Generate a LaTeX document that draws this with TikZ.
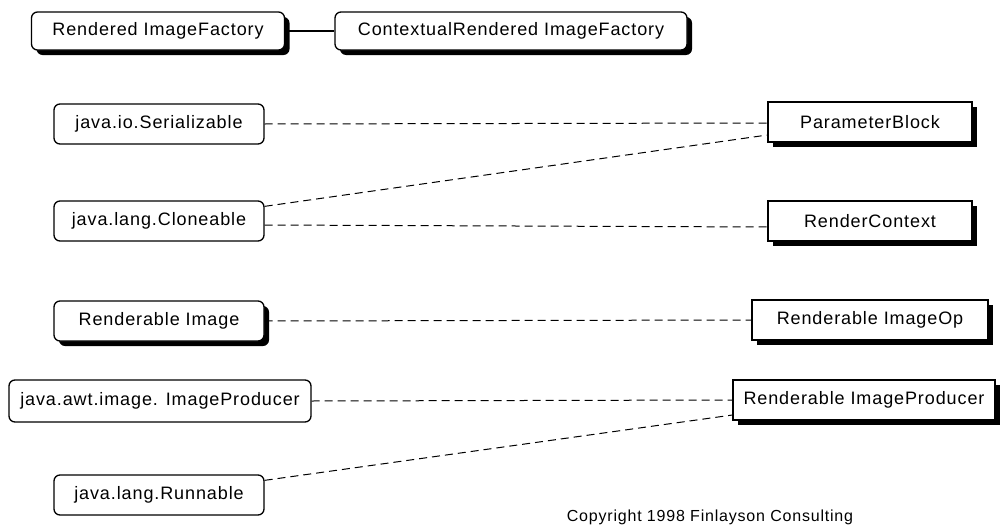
\documentclass[tikz,border=0pt]{standalone}
\usepackage{fontspec}
\setmainfont[LetterSpace=5]{Liberation Sans}
\usetikzlibrary{shadows}
\begin{document}
\begin{tikzpicture}[x=1pt,y=-1pt,
  base/.style={draw=black, line width=1.3pt, fill=white, inner sep=0pt,
    font=\fontsize{18}{20}\selectfont, anchor=center, minimum height=40pt},
  iface/.style={base, rounded corners=6pt},
  cls/.style={base},
  shade/.style={drop shadow={shadow xshift=5pt, shadow yshift=-5pt, fill=black, opacity=1}},
  link/.style={line width=1pt, dash pattern=on 8pt off 5pt},
  solidlink/.style={line width=1.3pt}]
\useasboundingbox (0,0) rectangle (1004,530);

% factory interfaces
\node[iface, shade, minimum width=253pt, minimum height=38pt] (rif) at (158,31) {Rendered ImageFactory};
\node[iface, shade, minimum width=352pt, minimum height=38pt] (crif) at (511,31) {ContextualRendered ImageFactory};

% left column
\node[iface, minimum width=210pt] (ser) at (159,124) {java.io.Serializable};
\node[iface, minimum width=210pt] (clo) at (159,221) {java.lang.Cloneable};
\node[iface, shade, minimum width=210pt] (ri) at (159,321) {Renderable Image};
\node[iface, minimum width=302pt, minimum height=42pt] (ip) at (160,401) {java.awt.image. ImageProducer};
\node[iface, minimum width=210pt] (run) at (159,495) {java.lang.Runnable};

% right column
\node[cls, shade, minimum width=204pt] (pb) at (870,122) {ParameterBlock};
\node[cls, shade, minimum width=204pt] (rc) at (870,221) {RenderContext};
\node[cls, shade, minimum width=236pt] (rio) at (870,320) {Renderable ImageOp};
\node[cls, shade, minimum width=262pt] (rip) at (864,400) {Renderable ImageProducer};

% connectors
\draw[solidlink] (rif) -- (crif);
\draw[link] (ser.east) -- ([yshift=-1pt]pb.west);
\draw[link] ([yshift=-6pt]clo.north east) -- ([yshift=-13pt]pb.west);
\draw[link] ([yshift=-4pt]clo.east) -- ([yshift=-6pt]rc.west);
\draw[link] (ri.east) -- (rio.west);
\draw[link] (ip.east) -- (rip.west);
\draw[link] ([yshift=-6pt]run.north east) -- ([yshift=-15pt]rip.west);

\node[font=\fontsize{16}{18}\selectfont] (copy) at (710,517) {Copyright 1998 Finlayson Consulting};
\end{tikzpicture}
\end{document}
